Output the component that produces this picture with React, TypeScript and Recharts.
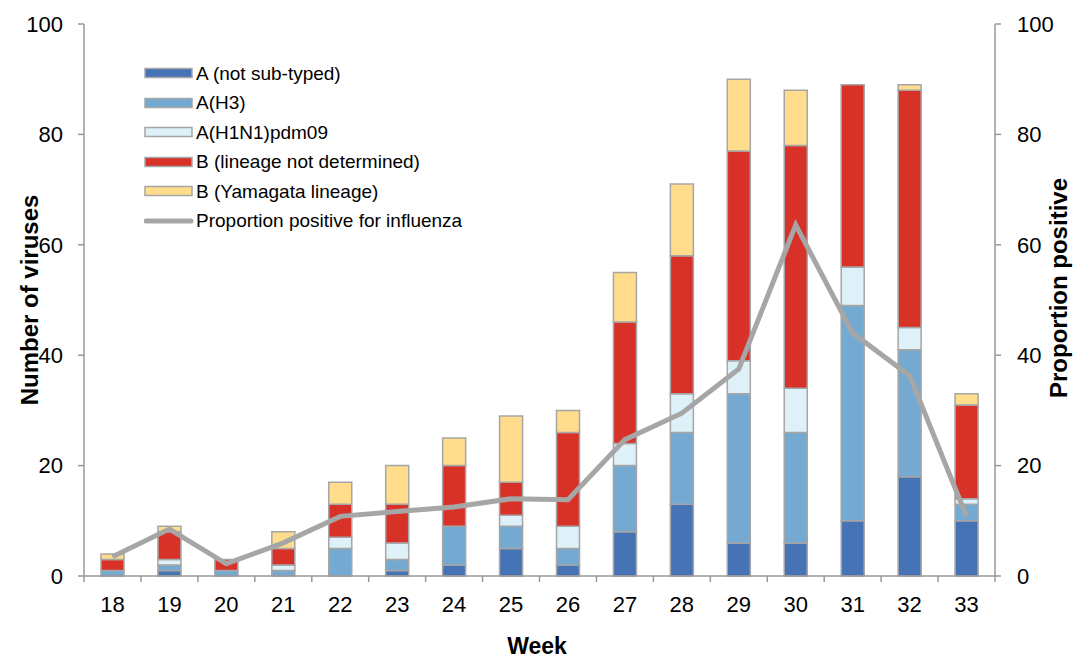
import React from 'react';
import { ComposedChart, Bar, Line, XAxis, YAxis, Legend } from 'recharts';

const weeks = ['18', '19', '20', '21', '22', '23', '24', '25', '26', '27', '28', '29', '30', '31', '32', '33'];
const aNotSubtyped = [0, 1, 0, 0, 0, 1, 2, 5, 2, 8, 13, 6, 6, 10, 18, 10];
const aH3 = [1, 1, 1, 1, 5, 2, 7, 4, 3, 12, 13, 27, 20, 39, 23, 3];
const aH1N1 = [0, 1, 0, 1, 2, 3, 0, 2, 4, 4, 7, 6, 8, 7, 4, 1];
const bNotDetermined = [2, 5, 2, 3, 6, 7, 11, 6, 17, 22, 25, 38, 44, 33, 43, 17];
const bYamagata = [1, 1, 0, 3, 4, 7, 5, 12, 4, 9, 13, 13, 10, 0, 1, 2];
const proportion = [3.5, 8.5, 2.2, 6, 10.8, 11.7, 12.5, 14, 13.8, 24.7, 29.5, 37.5, 63.6, 44, 36.3, 10.8];
const yTicks = [0, 20, 40, 60, 80, 100];

const seriesDefs = [
  { key: 'aNotSubtyped', name: 'A (not sub-typed)', color: '#4573b5' },
  { key: 'aH3', name: 'A(H3)', color: '#74aad1' },
  { key: 'aH1N1', name: 'A(H1N1)pdm09', color: '#def1f8' },
  { key: 'bNotDetermined', name: 'B (lineage not determined)', color: '#d83128' },
  { key: 'bYamagata', name: 'B (Yamagata lineage)', color: '#ffdd8c' },
];
const lineName = 'Proportion positive for influenza';

const data = weeks.map((w, i) => ({
  week: w,
  aNotSubtyped: aNotSubtyped[i],
  aH3: aH3[i],
  aH1N1: aH1N1[i],
  bNotDetermined: bNotDetermined[i],
  bYamagata: bYamagata[i],
  proportion: proportion[i],
}));

const W = 1074;
const H = 659;
const TOP = 24;
const LEFT_W = 84;
const RIGHT_W = 79;
const XAXIS_H = 83;
const AXIS_Y = H - XAXIS_H;
const BAND = (W - LEFT_W - RIGHT_W) / weeks.length;
const FONT = '"Liberation Sans", Arial, sans-serif';
const AXIS_COLOR = '#999999';
const EDGE = '#a6a6a6';

const XTick = (props: any) => {
  const { x, payload, index } = props;
  const isLast = index === weeks.length - 1;
  return (
    <g>
      <line x1={x - BAND / 2} x2={x - BAND / 2} y1={AXIS_Y} y2={AXIS_Y + 6} stroke={AXIS_COLOR} strokeWidth={1.5} />
      {isLast && (
        <line x1={x + BAND / 2} x2={x + BAND / 2} y1={AXIS_Y} y2={AXIS_Y + 6} stroke={AXIS_COLOR} strokeWidth={1.5} />
      )}
      <text x={x} y={612} textAnchor="middle" fontSize={22} fontFamily={FONT} fill="#000">
        {payload.value}
      </text>
    </g>
  );
};

const LegendContent = () => (
  <div style={{ fontFamily: FONT, fontSize: 19, color: '#000', textAlign: 'left' }}>
    {seriesDefs.map((s) => (
      <div key={s.key} style={{ height: 29.5, display: 'flex', alignItems: 'center' }}>
        <svg width={52} height={12} style={{ display: 'block' }}>
          <rect x={1} y={1.5} width={47} height={9} fill={s.color} stroke={EDGE} strokeWidth={1.5} />
        </svg>
        <span style={{ whiteSpace: 'nowrap', lineHeight: '29.5px' }}>{s.name}</span>
      </div>
    ))}
    <div style={{ height: 29.5, display: 'flex', alignItems: 'center' }}>
      <svg width={52} height={12} style={{ display: 'block' }}>
        <line x1={2} x2={47} y1={6} y2={6} stroke="#a6a6a6" strokeWidth={5} strokeLinecap="round" />
      </svg>
      <span style={{ whiteSpace: 'nowrap', lineHeight: '29.5px' }}>{lineName}</span>
    </div>
  </div>
);

export default function App() {
  return (
    <div style={{ position: 'absolute', left: 0, top: 0, width: W, height: H, background: '#fff' }}>
      <ComposedChart
        width={W}
        height={H}
        data={data}
        margin={{ top: TOP, right: 0, bottom: 0, left: 0 }}
        barSize={23}
      >
        <XAxis
          dataKey="week"
          height={XAXIS_H}
          stroke={AXIS_COLOR}
          strokeWidth={1.5}
          tickLine={false}
          tick={<XTick />}
          interval={0}
          label={{
            value: 'Week',
            position: 'insideBottom',
            content: () => (
              <text x={537} y={654} textAnchor="middle" fontSize={23} fontWeight="bold" fontFamily={FONT} fill="#000">
                Week
              </text>
            ),
          }}
        />
        <YAxis
          yAxisId="left"
          orientation="left"
          width={LEFT_W}
          domain={[0, 100]}
          ticks={yTicks}
          interval={0}
          stroke={AXIS_COLOR}
          strokeWidth={1.5}
          tickSize={6}
          tickMargin={15}
          tick={{ fontSize: 22, fill: '#000', fontFamily: FONT }}
          label={{
            value: 'Number of viruses',
            content: () => (
              <text
                x={37.5}
                y={300}
                transform="rotate(-90 37.5 300)"
                textAnchor="middle"
                fontSize={24}
                fontWeight="bold"
                fontFamily={FONT}
                fill="#000"
              >
                Number of viruses
              </text>
            ),
          }}
        />
        <YAxis
          yAxisId="right"
          orientation="right"
          width={RIGHT_W}
          domain={[0, 100]}
          ticks={yTicks}
          interval={0}
          stroke={AXIS_COLOR}
          strokeWidth={1.5}
          tickSize={6}
          tickMargin={16}
          tick={{ fontSize: 22, fill: '#000', fontFamily: FONT, textAnchor: 'start' }}
          label={{
            value: 'Proportion positive',
            content: () => (
              <text
                x={1067}
                y={288}
                transform="rotate(-90 1067 288)"
                textAnchor="middle"
                fontSize={24}
                fontWeight="bold"
                fontFamily={FONT}
                fill="#000"
              >
                Proportion positive
              </text>
            ),
          }}
        />
        <Legend
          layout="vertical"
          align="center"
          verticalAlign="middle"
          wrapperStyle={{ position: 'absolute', left: 144, top: 58.5, width: 400, margin: 0 }}
          content={<LegendContent />}
        />
        {seriesDefs.map((s) => (
          <Bar
            key={s.key}
            yAxisId="left"
            dataKey={s.key}
            name={s.name}
            stackId="v"
            fill={s.color}
            stroke={EDGE}
            strokeWidth={1.5}
            isAnimationActive={false}
          />
        ))}
        <Line
          yAxisId="right"
          type="linear"
          dataKey="proportion"
          name={lineName}
          stroke="#a6a6a6"
          strokeWidth={5}
          dot={false}
          activeDot={false}
          isAnimationActive={false}
        />
      </ComposedChart>
    </div>
  );
}
